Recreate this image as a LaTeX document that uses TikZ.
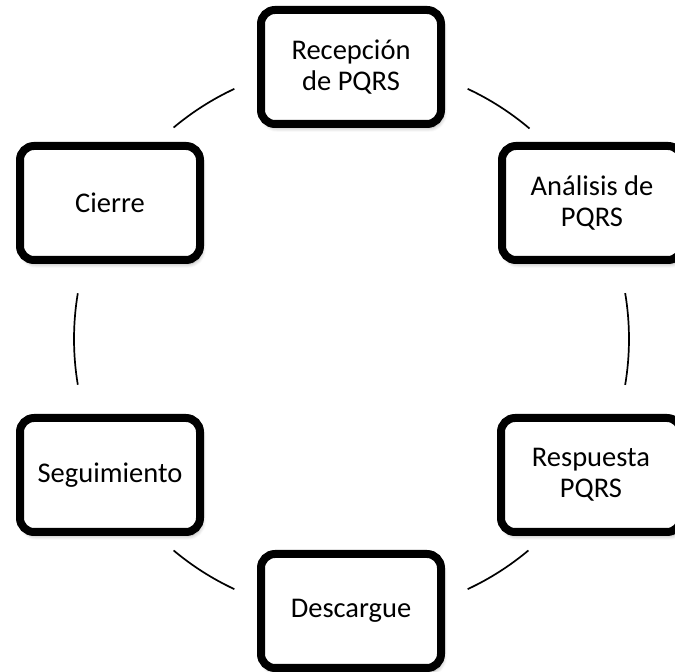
\documentclass[tikz,border=0pt]{standalone}
\usepackage{fontspec}
\setmainfont{Carlito}
\usetikzlibrary{shadows.blur}
\tikzset{
  stepbox/.style={draw=black, fill=white, line width=8pt, rounded corners=14pt,
    minimum width=180pt, minimum height=114pt, align=center, inner sep=0pt,
    font=\fontsize{28.5}{31}\selectfont,
    blur shadow={shadow xshift=2pt, shadow yshift=-4pt, shadow blur steps=6, shadow blur radius=4pt, shadow opacity=35}},
  link/.style={draw=black, line width=1.7pt}
}
\begin{document}
\begin{tikzpicture}[x=1pt,y=1pt]
\useasboundingbox (0,0) rectangle (675,672);
\coordinate (ctr) at (351,333);
\node[stepbox] (rec) at (351,605) {Recepción\\de PQRS};
\node[stepbox] (ana) at (592,469) {Análisis de\\PQRS};
\node[stepbox] (res) at (591,197) {Respuesta\\PQRS};
\node[stepbox] (des) at (351,61) {Descargue};
\node[stepbox] (seg) at (110,197) {Seguimiento};
\node[stepbox] (cie) at (110,469) {Cierre};
\draw[link] ([shift={(49.7:276)}]ctr) arc[start angle=49.7, end angle=65, radius=276];
\draw[link] ([shift={(115:276)}]ctr) arc[start angle=115, end angle=130, radius=276];
\draw[link] ([shift={(170.5:277)}]ctr) arc[start angle=170.5, end angle=189.5, radius=277];
\draw[link] ([shift={(230:276)}]ctr) arc[start angle=230, end angle=245, radius=276];
\draw[link] ([shift={(295:276)}]ctr) arc[start angle=295, end angle=310, radius=276];
\draw[link] ([shift={(-9.5:278)}]ctr) arc[start angle=-9.5, end angle=9.5, radius=278];
\end{tikzpicture}
\end{document}
